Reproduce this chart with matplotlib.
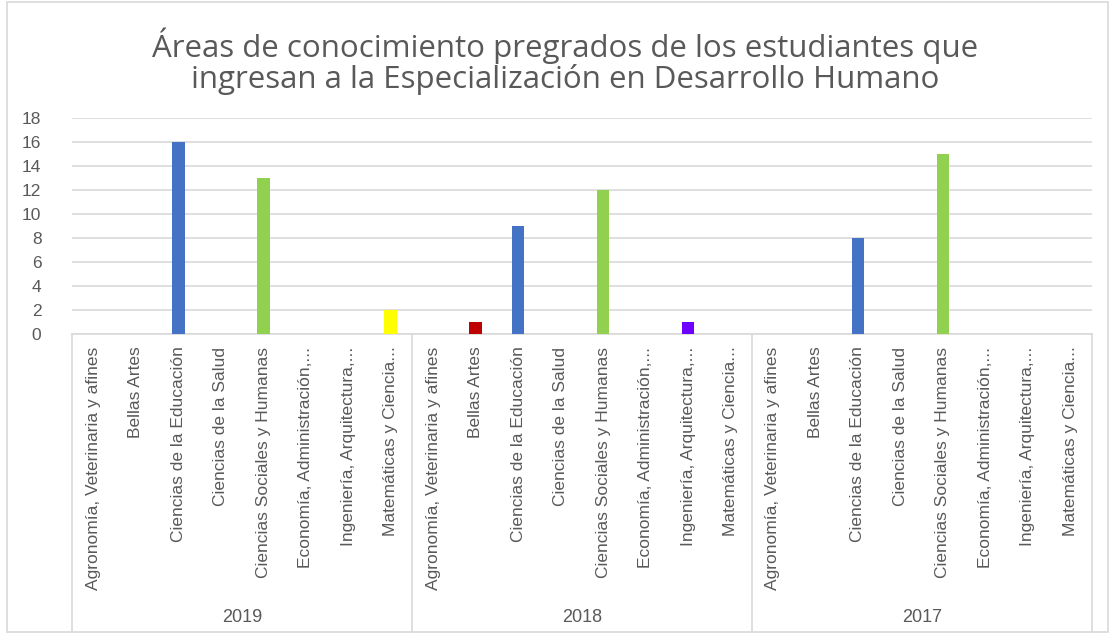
import matplotlib.pyplot as plt
from matplotlib.patches import Rectangle

plt.rcParams['font.family'] = ['Liberation Sans', 'DejaVu Sans']

areas = ["Agronomía, Veterinaria y afines", "Bellas Artes", "Ciencias de la Educación",
         "Ciencias de la Salud", "Ciencias Sociales y Humanas", "Economía, Administración,...",
         "Ingeniería, Arquitectura,...", "Matemáticas y Ciencia..."]
area_colors = ["#A5A5A5", "#C00000", "#4472C4", "#ED7D31", "#92D050", "#FFC000", "#6E00FF", "#FFFF00"]
years = ["2019", "2018", "2017"]
vals_2019 = [0, 0, 16, 0, 13, 0, 0, 2]
vals_2018 = [0, 1, 9, 0, 12, 0, 1, 0]
vals_2017 = [0, 0, 8, 0, 15, 0, 0, 0]
all_vals = [vals_2019, vals_2018, vals_2017]

grey = "#595959"
fig = plt.figure(figsize=(11.15, 6.4), dpi=100)
ax = fig.add_axes([0.0646, 0.478, 0.9144, 0.3378])

n = len(areas)
x = 0
for g, vals in enumerate(all_vals):
    for i, v in enumerate(vals):
        if v > 0:
            ax.bar(x, v, width=0.3, color=area_colors[i], zorder=3)
        x += 1

total = n * len(years)
ax.set_xlim(-0.5, total - 0.5)
ax.set_ylim(0, 18)
ax.set_yticks(range(0, 19, 2))
ax.set_yticklabels([str(t) for t in range(0, 19, 2)], fontsize=12.5, color=grey)
ax.tick_params(axis='y', length=0, pad=22)
ax.yaxis.grid(True, color="#D9D9D9", linewidth=1.2, zorder=0)
ax.set_axisbelow(True)
for s in ["left", "right", "top"]:
    ax.spines[s].set_visible(False)
ax.spines["bottom"].set_color("#D9D9D9")
ax.spines["bottom"].set_linewidth(1.2)

ax.set_xticks(range(total))
ax.set_xticklabels(areas * len(years), rotation=90, fontsize=12.5, color=grey, va='top')
ax.tick_params(axis='x', length=0, pad=9)

# group separators and year labels
trans = ax.get_xaxis_transform()
for g in range(len(years) + 1):
    ax.plot([g * n - 0.5, g * n - 0.5], [0, -1.38], transform=trans, color="#D9D9D9",
            linewidth=1.2, clip_on=False)
for g, yr in enumerate(years):
    ax.text(g * n + (n - 1) / 2, -1.31, yr, transform=trans, ha='center', va='center',
            fontsize=13, color=grey)

fig.text(0.507, 0.905, "Áreas de conocimiento pregrados de los estudiantes que\n"
         "ingresan a la Especialización en Desarrollo Humano",
         ha='center', va='center', fontsize=22.5, color=grey, linespacing=1.0,
         family=['Open Sans', 'DejaVu Sans'])

fig.patches.append(Rectangle((0.006, 0.012), 0.988, 0.985, transform=fig.transFigure,
                             fill=False, edgecolor="#D9D9D9", linewidth=1.2))

fig.savefig("out.png", dpi=100)
